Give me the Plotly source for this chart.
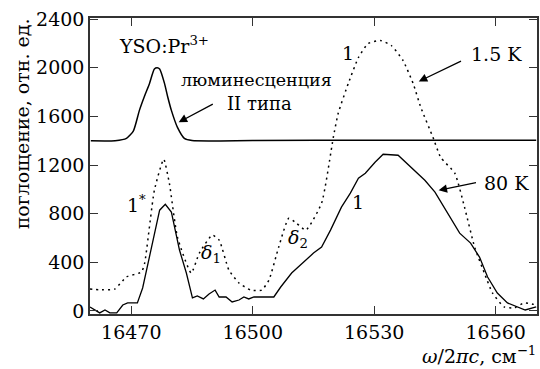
import plotly.graph_objects as go

# luminescence (type II), offset curve
lum_x = [16460, 16466, 16468.8, 16470.5, 16472.0, 16473.3, 16474.5, 16475.7, 16476.4, 16477.0, 16478.2, 16479.0, 16479.9, 16481.4, 16483.1, 16485, 16500, 16530, 16570]
lum_y = [1400, 1401, 1420, 1480, 1650, 1770, 1872, 1990, 2000, 1990, 1872, 1760, 1650, 1510, 1420, 1402, 1402, 1405, 1405]

# 1.5 K absorption (dotted)
k15_x = [16459.8, 16462, 16465.9, 16468.8, 16472.5, 16473.3, 16475.7, 16478.0, 16479.4, 16481.4, 16484.8, 16486.8, 16490.0, 16491.7, 16494.1, 16496.6, 16499.5, 16502.2, 16504.0, 16506.4, 16508.9, 16510.8, 16513.1, 16517.0, 16519.9, 16521.1, 16523.6, 16526.1, 16528.5, 16531.5, 16534.2, 16537.1, 16539.6, 16541.5, 16544.5, 16546.4, 16549.9, 16552.3, 16554.8, 16557.2, 16559.2, 16562.1, 16564.6, 16567.0, 16570.0]
k15_y = [180, 175, 180, 280, 320, 394, 993, 1248, 1050, 607, 312, 476, 624, 583, 337, 230, 172, 172, 254, 525, 763, 722, 665, 887, 1429, 1626, 1872, 2085, 2200, 2225, 2184, 2061, 1872, 1675, 1429, 1264, 1133, 854, 525, 312, 148, 33, 25, 66, 50]

# 80 K absorption (solid)
k80_x = [16459.8, 16462.2, 16463.5, 16464.7, 16466.4, 16467.9, 16469.1, 16471.5, 16472.8, 16474.2, 16477.0, 16478.4, 16479.9, 16481.9, 16483.6, 16485.1, 16486.3, 16487.8, 16489.2, 16490.7, 16491.7, 16493.4, 16494.9, 16496.6, 16497.8, 16499.0, 16500.3, 16505.2, 16506.9, 16509.6, 16513.3, 16515.0, 16517.0, 16519.2, 16521.9, 16524.1, 16526.1, 16527.8, 16530.2, 16532.2, 16535.9, 16539.0, 16542.5, 16545.0, 16546.9, 16548.9, 16551.1, 16553.8, 16556.0, 16558.0, 16560.4, 16562.9, 16565.3, 16567.3, 16570.0]
k80_y = [33, -16, 8, -16, -16, 49, 66, 66, 189, 394, 829, 878, 813, 501, 312, 107, 123, 99, 140, 172, 115, 115, 74, 90, 115, 99, 115, 115, 197, 312, 419, 476, 525, 665, 854, 969, 1092, 1133, 1223, 1289, 1281, 1182, 1075, 977, 870, 763, 640, 558, 443, 279, 148, 66, 33, 8, 33]

x_ticks = [16470, 16500, 16530, 16560]
y_ticks = [0, 400, 800, 1200, 1600, 2000, 2400]

FONT = "DejaVu Serif"

fig = go.Figure()
fig.add_trace(go.Scatter(x=lum_x, y=lum_y, mode="lines", line=dict(color="black", width=1.5, shape="spline", smoothing=0.6)))
fig.add_trace(go.Scatter(x=k15_x, y=k15_y, mode="lines", line=dict(color="black", width=1.5, dash="2px,4px", shape="spline", smoothing=0.5)))
fig.add_trace(go.Scatter(x=k80_x, y=k80_y, mode="lines", line=dict(color="black", width=1.3)))

axis_common = dict(showgrid=False, zeroline=False, showline=True, linecolor="#333", linewidth=1.5,
                   mirror="ticks", ticks="inside", ticklen=8, tickwidth=1.3, tickcolor="#333",
                   tickfont=dict(family=FONT, size=19, color="black"))
fig.update_xaxes(range=[16459.8, 16570.2], tickvals=x_ticks, ticktext=[str(v) for v in x_ticks], **axis_common)
fig.update_yaxes(range=[-25, 2410], tickvals=y_ticks, ticktext=[str(v) for v in y_ticks], **axis_common)

ann = []
def txt(x, y, s, size=19, xanchor="center"):
    ann.append(dict(x=x, y=y, xref="x", yref="y", text=s, showarrow=False, xanchor=xanchor, yanchor="middle",
                    font=dict(family=FONT, size=size, color="black")))

txt(16466.4, 2184, "YSO:Pr<sup>3+</sup>", xanchor="left")
txt(16481.7, 1896, "люминесценция", size=17.5, xanchor="left")
txt(16493.2, 1708, "II типа", size=18, xanchor="left")
txt(16523.4, 2126, "1")
txt(16553.4, 2110, "1.5 K", xanchor="left")
txt(16556.5, 1051, "80 K", xanchor="left")
txt(16526.0, 895, "1")
txt(16511.1, 599, "<i>δ</i><sub>2</sub>")
txt(16489.7, 476, "<i>δ</i><sub>1</sub>")
txt(16471.3, 880, "1<sup>*</sup>")

def arrow(x0, y0, x1, y1):
    ann.append(dict(x=x1, y=y1, ax=x0, ay=y0, xref="x", yref="y", axref="x", ayref="y", text="",
                    showarrow=True, arrowhead=2, arrowsize=1.3, arrowwidth=1.3, arrowcolor="black"))

arrow(16490.5, 1708, 16481.7, 1552)
arrow(16551.8, 2061, 16541.0, 1888)
arrow(16555.5, 1059, 16545.9, 993)

ann.append(dict(x=540, y=355, xref="paper", yref="paper", text="<i>ω</i>/2<i>πc</i>, см<sup>−1</sup>",
                showarrow=False, xanchor="right", yanchor="middle", font=dict(family=FONT, size=19, color="black")))
ann.append(dict(x=22, y=124, xref="paper", yref="paper", text="поглощение, отн. ед.", textangle=-90,
                showarrow=False, xanchor="center", yanchor="middle", font=dict(family=FONT, size=19, color="black")))

# convert paper-pixel annotations to paper fractions
W, H = 540, 369
L, R, T, B = 90, 1, 18, 55
pw, ph = W - L - R, H - T - B
for a in ann[-2:]:
    a["x"] = (a["x"] - L) / pw
    a["y"] = 1 - (a["y"] - T) / ph

fig.update_layout(width=W, height=H, margin=dict(l=L, r=R, t=T, b=B), showlegend=False,
                  plot_bgcolor="white", paper_bgcolor="white", annotations=ann)
fig.write_html("out.html")
